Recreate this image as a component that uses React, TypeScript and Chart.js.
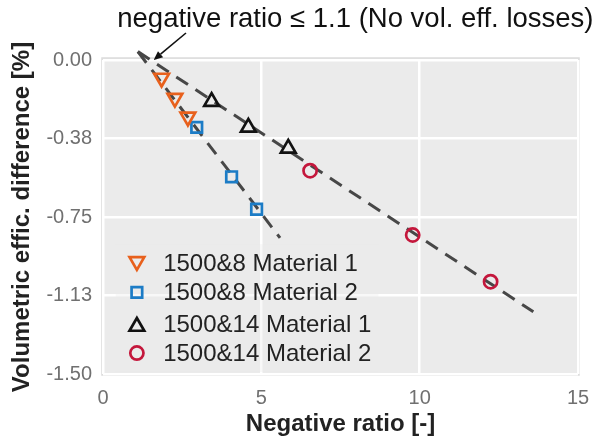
import React, { useEffect, useRef } from "react";
import { Chart, registerables } from "chart.js";

Chart.register(...registerables);

const FONT = "'Liberation Sans', Arial, Helvetica, sans-serif";

// Data
const m1_8_x = [1.85, 2.27, 2.68];
const m1_8_y = [-0.086, -0.182, -0.272];
const m2_8_x = [2.96, 4.06, 4.85];
const m2_8_y = [-0.322, -0.558, -0.713];
const m1_14_x = [3.43, 4.59, 5.85];
const m1_14_y = [-0.199, -0.322, -0.422];
const m2_14_x = [6.54, 9.78, 12.24];
const m2_14_y = [-0.529, -0.836, -1.059];

// Dashed trend lines (start / end)
const trend8_x = [1.1, 5.59];
const trend8_y = [0.04, -0.85];
const trend14_x = [1.1, 13.59];
const trend14_y = [0.04, -1.203];

const yTickValues = [0, -0.375, -0.75, -1.125, -1.5];
const yTickLabels = ["0.00", "-0.38", "-0.75", "-1.13", "-1.50"];
const xTickValues = [0, 5, 10, 15];

const seriesLabels = [
  "1500&8 Material 1",
  "1500&8 Material 2",
  "1500&14 Material 1",
  "1500&14 Material 2",
];

const annotationText = "negative ratio \u2264 1.1 (No vol. eff. losses)";
const annotationTextPos = { x: 7.97, y: 0.158 };
const arrowTail = { x: 2.62, y: 0.129 };
const arrowTip = { x: 1.6, y: 0.0 };

const zip = (xs: number[], ys: number[]) => xs.map((x, i) => ({ x, y: ys[i] }));

const ORANGE = "#E8601C";
const BLUE = "#1C7CC6";
const BLACK = "#111111";
const RED = "#C4173C";

export default function App() {
  const ref = useRef<HTMLCanvasElement | null>(null);

  useEffect(() => {
    if (!ref.current) return;

    const bgPlugin = {
      id: "plotBg",
      beforeDraw(chart: any) {
        const { ctx, chartArea: a } = chart;
        ctx.save();
        ctx.fillStyle = "#EBEBEB";
        ctx.fillRect(a.left - 1, a.top - 2, a.right - a.left + 2, a.bottom - a.top + 3);
        ctx.strokeStyle = "#DCDCDC";
        ctx.lineWidth = 1.5;
        ctx.strokeRect(a.left - 1, a.top - 2, a.right - a.left + 2, a.bottom - a.top + 3);
        ctx.restore();
      },
    };

    const legendPlugin = {
      id: "insideLegend",
      afterDatasetsDraw(chart: any) {
        const { ctx } = chart;
        const xs = chart.scales.x;
        const ys = chart.scales.y;
        ctx.save();
        // semi-transparent legend frame
        const lx = xs.getPixelForValue(0.4);
        const ly = ys.getPixelForValue(-0.88);
        const lr = xs.getPixelForValue(8.7);
        const lb = ys.getPixelForValue(-1.49);
        ctx.fillStyle = "rgba(235,235,235,0.35)";
        ctx.fillRect(lx, ly, lr - lx, lb - ly);
        const markerX = xs.getPixelForValue(1.07);
        const textX = xs.getPixelForValue(1.9);
        const rowY = [-0.97, -1.11, -1.265, -1.40].map((v) => ys.getPixelForValue(v));
        ctx.font = `24px ${FONT}`;
        ctx.textBaseline = "middle";
        ctx.textAlign = "left";
        for (let i = 0; i < 4; i++) {
          const ds = chart.data.datasets[i];
          const r = ds.pointRadius;
          ctx.save();
          ctx.strokeStyle = ds.borderColor;
          ctx.lineWidth = ds.pointBorderWidth;
          ctx.beginPath();
          const cx = markerX;
          const cy = rowY[i];
          if (ds.pointStyle === "triangle") {
            let rad = ((ds.rotation || 0) * Math.PI) / 180;
            const off = ds.rotation ? -r * 0.2 : r * 0.2;
            for (let k = 0; k < 3; k++) {
              const px = cx + Math.sin(rad) * r;
              const py = cy + off - Math.cos(rad) * r;
              if (k === 0) ctx.moveTo(px, py);
              else ctx.lineTo(px, py);
              rad += (2 * Math.PI) / 3;
            }
            ctx.closePath();
          } else if (ds.pointStyle === "rect") {
            const s = Math.SQRT1_2 * r;
            ctx.rect(cx - s, cy - s, 2 * s, 2 * s);
          } else {
            ctx.arc(cx, cy, r, 0, Math.PI * 2);
          }
          ctx.stroke();
          ctx.restore();
          ctx.fillStyle = "#222222";
          ctx.fillText(seriesLabels[i], textX, cy + 1);
        }
        ctx.restore();
      },
      afterDraw(chart: any) {
        const { ctx } = chart;
        const xs = chart.scales.x;
        const ys = chart.scales.y;
        ctx.save();
        ctx.fillStyle = "#111111";
        ctx.font = `27.5px ${FONT}`;
        ctx.textAlign = "center";
        ctx.textBaseline = "alphabetic";
        ctx.fillText(
          annotationText,
          xs.getPixelForValue(annotationTextPos.x),
          ys.getPixelForValue(annotationTextPos.y)
        );
        const tx = xs.getPixelForValue(arrowTail.x);
        const ty = ys.getPixelForValue(arrowTail.y);
        const hx = xs.getPixelForValue(arrowTip.x);
        const hy = ys.getPixelForValue(arrowTip.y);
        const ang = Math.atan2(hy - ty, hx - tx);
        const L = 9;
        const W = 4;
        const bx = hx - Math.cos(ang) * L;
        const by = hy - Math.sin(ang) * L;
        ctx.strokeStyle = "#111111";
        ctx.lineWidth = 1.6;
        ctx.beginPath();
        ctx.moveTo(tx, ty);
        ctx.lineTo(bx, by);
        ctx.stroke();
        ctx.beginPath();
        ctx.moveTo(hx, hy);
        ctx.lineTo(bx + Math.sin(ang) * W, by - Math.cos(ang) * W);
        ctx.lineTo(bx - Math.sin(ang) * W, by + Math.cos(ang) * W);
        ctx.closePath();
        ctx.fill();
        ctx.restore();
      },
    };

    const pointDs = (label: string, xs: number[], ys: number[], color: string, style: string, radius: number, rotation = 0) => ({
      type: "scatter" as const,
      label,
      data: zip(xs, ys),
      borderColor: color,
      backgroundColor: "rgba(0,0,0,0)",
      pointStyle: style,
      pointRadius: radius,
      pointBorderWidth: 2.7,
      rotation,
      pointRotation: rotation,
      showLine: false,
      order: 1,
    });

    const lineDs = (xs: number[], ys: number[]) => ({
      type: "line" as const,
      label: "trend",
      data: zip(xs, ys),
      borderColor: "#474747",
      borderWidth: 3,
      borderDash: [14, 9],
      pointRadius: 0,
      fill: false,
      clip: false,
      order: 2,
    });

    const chart = new Chart(ref.current, {
      type: "scatter",
      data: {
        datasets: [
          pointDs(seriesLabels[0], m1_8_x, m1_8_y, ORANGE, "triangle", 8.5, 180),
          pointDs(seriesLabels[1], m2_8_x, m2_8_y, BLUE, "rect", 7.5),
          pointDs(seriesLabels[2], m1_14_x, m1_14_y, BLACK, "triangle", 8.5),
          pointDs(seriesLabels[3], m2_14_x, m2_14_y, RED, "circle", 6.6),
          lineDs(trend8_x, trend8_y),
          lineDs(trend14_x, trend14_y),
        ] as any,
      },
      plugins: [bgPlugin, legendPlugin],
      options: {
        animation: false,
        responsive: false,
        devicePixelRatio: 1,
        layout: { padding: { top: 60, right: 16, left: 0, bottom: 0 } },
        plugins: {
          legend: { display: false },
          tooltip: { enabled: false },
        },
        scales: {
          x: {
            type: "linear",
            min: 0,
            max: 15,
            afterFit: (s: any) => {
              s.height = 69;
              s.paddingRight = 0;
              s.paddingLeft = 0;
            },
            afterBuildTicks: (s: any) => {
              s.ticks = xTickValues.map((v) => ({ value: v }));
            },
            grid: { color: "#FFFFFF", lineWidth: 2.5, drawTicks: false },
            border: { display: false },
            ticks: {
              padding: 12,
              color: "#707070",
              font: { family: FONT, size: 20 },
              callback: (v: any) => String(v),
            },
            title: {
              display: true,
              text: "Negative ratio [-]",
              color: "#222222",
              font: { family: FONT, size: 24, weight: "bold" },
              padding: { top: 0, bottom: 4 },
            },
          },
          y: {
            type: "linear",
            min: -1.5,
            max: 0,
            afterFit: (s: any) => {
              s.width = 103;
              s.paddingTop = 0;
              s.paddingBottom = 0;
            },
            afterBuildTicks: (s: any) => {
              s.ticks = yTickValues.map((v) => ({ value: v }));
            },
            grid: { color: "#FFFFFF", lineWidth: 2.5, drawTicks: false },
            border: { display: false },
            ticks: {
              padding: 11,
              color: "#707070",
              font: { family: FONT, size: 20 },
              callback: (_v: any, i: number) => yTickLabels[i],
            },
            title: {
              display: true,
              text: "Volumetric effic. difference [%]",
              color: "#222222",
              font: { family: FONT, size: 24, weight: "bold" },
              padding: { top: 8, bottom: 0 },
            },
          },
        },
      } as any,
    });

    return () => chart.destroy();
  }, []);

  return (
    <div style={{ position: "fixed", left: 0, top: 0, width: 594, height: 443, background: "#fff" }}>
      <canvas ref={ref} width={594} height={443} style={{ width: 594, height: 443, display: "block" }} />
    </div>
  );
}
